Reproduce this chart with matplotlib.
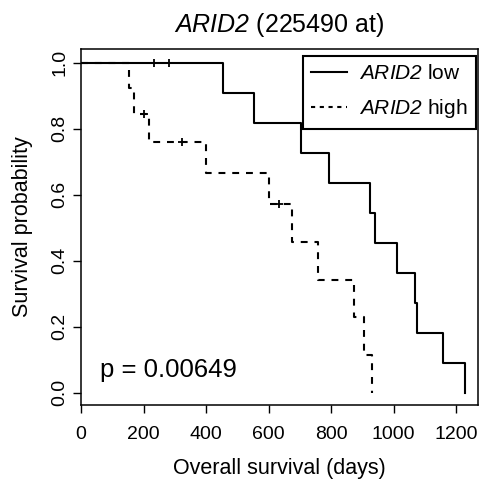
import matplotlib
matplotlib.use("Agg")
import matplotlib.pyplot as plt
from matplotlib.lines import Line2D

plt.rcParams['font.family'] = ['Liberation Sans', 'DejaVu Sans']
plt.rcParams['mathtext.fontset'] = 'custom'
plt.rcParams['mathtext.rm'] = 'Liberation Sans'
plt.rcParams['mathtext.sf'] = 'Liberation Sans:italic'

# Kaplan-Meier steps
low_times = [0, 454, 552, 703, 794, 924, 940, 1010, 1068, 1076, 1159, 1230]
low_surv = [1.0, 0.909, 0.818, 0.727, 0.636, 0.545, 0.455, 0.364, 0.273, 0.182, 0.091, 0.0]
low_cens_t = [235, 283]
low_cens_s = [1.0, 1.0]

high_times = [0, 154, 168, 216, 400, 603, 676, 758, 873, 906, 931]
high_surv = [1.0, 0.923, 0.846, 0.761, 0.666, 0.571, 0.457, 0.343, 0.229, 0.114, 0.0]
high_cens_t = [201, 324, 633]
high_cens_s = [0.846, 0.761, 0.571]

x_ticks = [0, 200, 400, 600, 800, 1000, 1200]
y_ticks = [0.0, 0.2, 0.4, 0.6, 0.8, 1.0]
p_text = "p = 0.00649"

fig = plt.figure(figsize=(4.87, 4.79), dpi=100)
ax = fig.add_axes([0.1663, 0.1545, 0.8152, 0.7432])

dash = (0, (3.3, 3.3))
ax.step(low_times, low_surv, where='post', color='black', lw=1.5)
ax.step(high_times, high_surv, where='post', color='black', lw=1.5, linestyle=dash)
ax.plot(low_cens_t, low_cens_s, '+', color='black', ms=6, mew=1.3)
ax.plot(high_cens_t, high_cens_s, '+', color='black', ms=6, mew=1.3)

ax.set_xlim(0, 1270)
ax.set_ylim(-0.037, 1.0415)
ax.set_xticks(x_ticks)
ax.set_yticks(y_ticks)
ax.set_yticklabels([f"{v:.1f}" for v in y_ticks], rotation=90, va='center')
ax.tick_params(direction='out', length=6, width=1, labelsize=14)
ax.tick_params(axis='x', pad=9)
ax.tick_params(axis='y', pad=3)
for s in ax.spines.values():
    s.set_linewidth(1.1)

ax.set_xlabel("Overall survival (days)", fontsize=15.5, labelpad=11)
ax.set_ylabel("Survival probability", fontsize=15.5, labelpad=13)
ax.set_title(r"$\mathsf{ARID2}$ (225490 at)", fontsize=18, pad=12)

ax.text(62, 0.069, p_text, fontsize=18.5, va='center', ha='left')

handles = [Line2D([], [], color='black', lw=1.5),
           Line2D([], [], color='black', lw=1.5, linestyle=(0, (2.0, 2.2)))]
leg = ax.legend(handles, [r"$\mathsf{ARID2}$ low", r"$\mathsf{ARID2}$ high"],
                loc='upper right', bbox_to_anchor=(0.995, 0.98), borderaxespad=0,
                fancybox=False, edgecolor='black', fontsize=15, framealpha=1,
                handlelength=1.7, handletextpad=0.6, borderpad=0.4, labelspacing=0.67)
leg.get_frame().set_linewidth(1.5)

fig.savefig("out.png", dpi=100)
